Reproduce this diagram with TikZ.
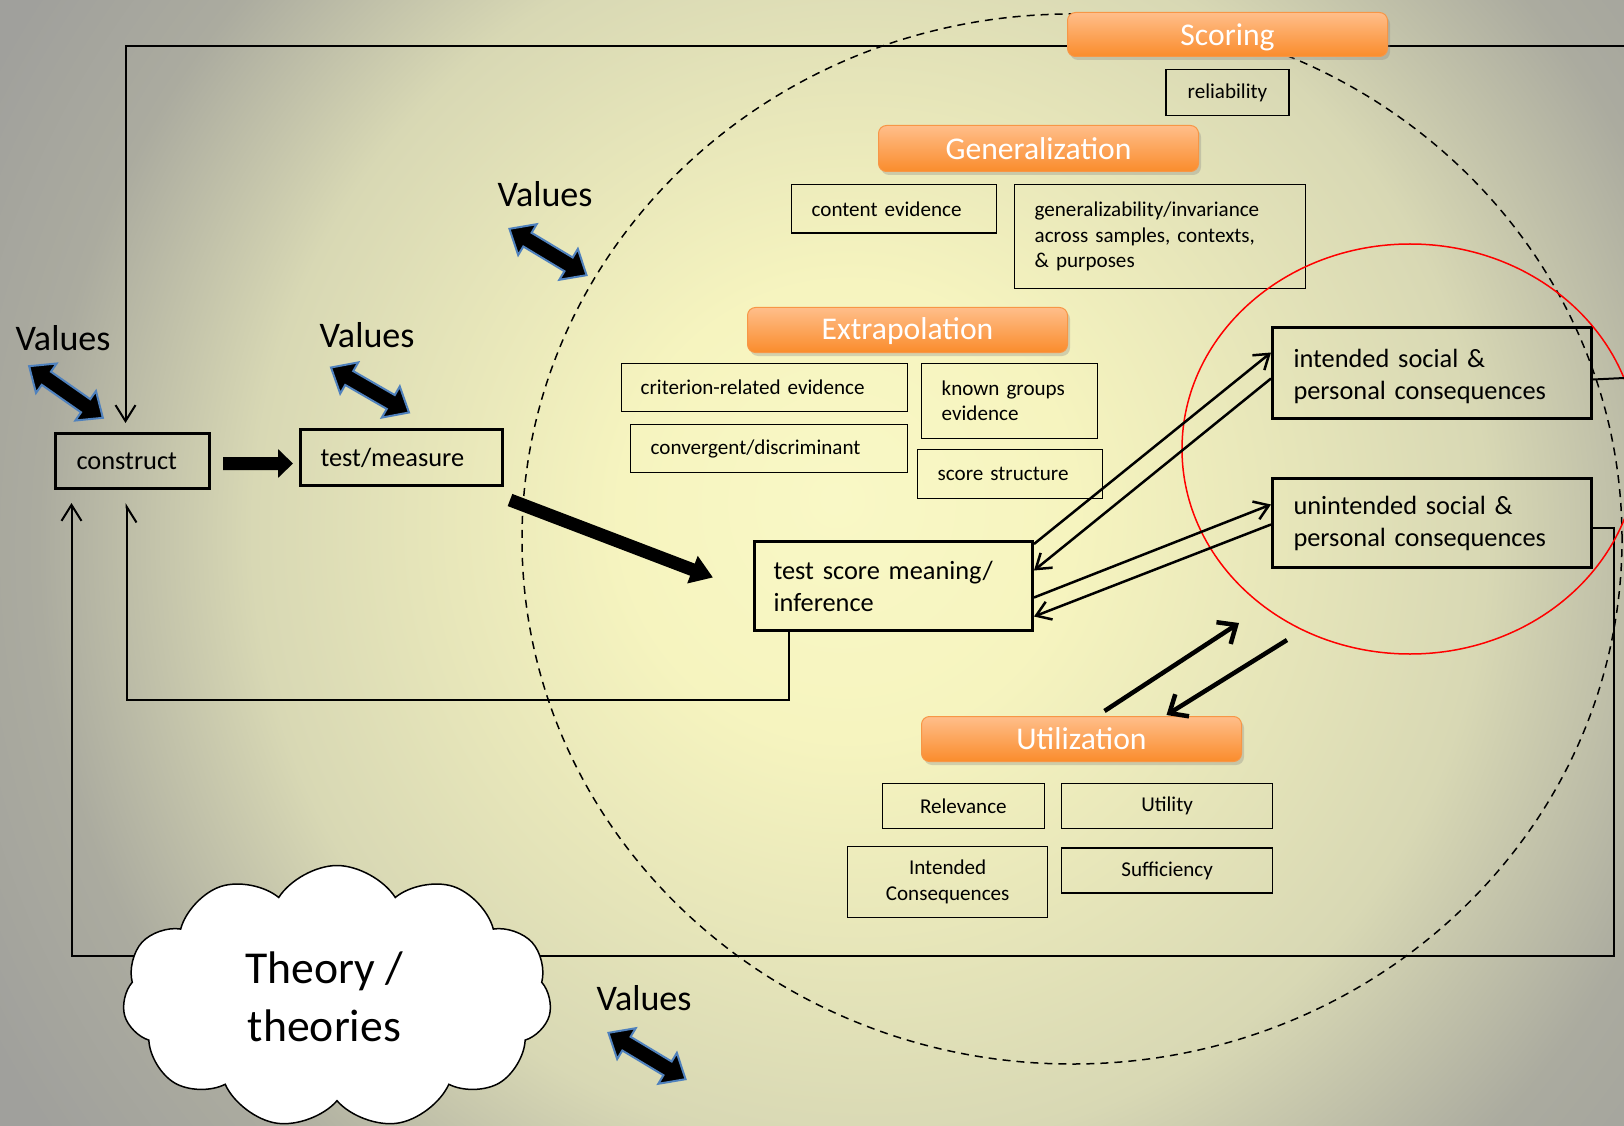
\documentclass[tikz,border=0pt]{standalone}
\usepackage{fontspec}
\setmainfont{Carlito}
\usepackage{tikz}
\usetikzlibrary{arrows.meta,positioning,shapes.symbols,shadows,backgrounds}
\definecolor{Haze}{HTML}{F9F8C6}
\definecolor{Cream}{HTML}{F6F4BF}
\definecolor{Straw}{HTML}{D8D8B4}
\definecolor{Sage}{HTML}{ABAB9F}
\definecolor{Ash}{HTML}{A0A09C}
\definecolor{Tang}{HTML}{F79646}
\definecolor{TangLite}{HTML}{FFBE8A}
\definecolor{TangDeep}{HTML}{FA8C2C}
\definecolor{Steel}{HTML}{4F81BD}
\definecolor{Signal}{HTML}{FF0000}
\pgfdeclareradialshading{glow}{\pgfpoint{-4bp}{4bp}}{color(0bp)=(Haze); color(14bp)=(Cream); color(38bp)=(Straw); color(52bp)=(Sage); color(63bp)=(Ash); color(71bp)=(Ash)}

\begin{document}
\begin{tikzpicture}[x=0.2mm,y=-0.2mm,
  every node/.style={align=center},
  bigbox/.style={draw,line width=0.6mm,anchor=north west,inner ysep=0pt,align=left,font=\fontsize{15}{18.2}\selectfont},
  smallbox/.style={draw,line width=0.26mm,anchor=north west,inner ysep=0pt,align=left,font=\fontsize{12}{14.6}\selectfont},
  phase/.style={draw=Tang,line width=0.2mm,rounded corners=1.6mm,top color=TangLite,bottom color=TangDeep,text=white,anchor=north west,inner sep=0pt,minimum width=64mm,font=\fontsize{18}{20}\selectfont,drop shadow={opacity=0.3,shadow xshift=0.5mm,shadow yshift=-0.7mm}},
  valtag/.style={anchor=base,font=\fontsize{20.5}{24}\selectfont},
  twinarrow/.pic={\draw[Steel,line width=0.4mm,fill=black,line join=miter] (-45,0) -- (-24,-18) -- (-24,-8) -- (24,-8) -- (24,-18) -- (45,0) -- (24,18) -- (24,8) -- (-24,8) -- (-24,18) -- cycle;},
  wire/.style={line width=0.4mm},
  link/.style={wire,-{Straight Barb[length=3.2mm,width=4mm]}},
  tie/.style={line width=0.5mm,-{Straight Barb[length=2.8mm,width=3.8mm]}},
  surge/.style={line width=0.9mm,-{Straight Barb[length=3mm,width=5.2mm]}},
  fat/.style={line width=2.6mm,-{Triangle[length=3mm,width=5.6mm]}}]
\useasboundingbox (0,0) rectangle (1624,1126);
\coordinate (rimT) at (1624,46);
\coordinate (rimR) at (1624,378);

% phases
\node[phase,minimum height=8.8mm] (scoring) at (1067,12) {\raisebox{-0.6mm}[\height][\depth]{Scoring}};
\node[phase,minimum height=9.2mm] (general) at (878,125) {Generalization};
\node[phase,minimum height=9mm] (extrap) at (747,307) {\raisebox{-0.3mm}[\height][\depth]{Extrapolation}};
\node[phase,minimum height=9mm] (utilize) at (921,716) {Utilization};

% evidence boxes
\node[smallbox,align=center,inner xsep=0pt,text width=24.6mm,minimum height=9.2mm,below=2.4mm of scoring] (reliab) {reliability};
\node[smallbox,inner xsep=4mm,text width=33mm,minimum height=9.7mm] (content) at (791,184) {content evidence};
\node[smallbox,inner xsep=4mm,text width=50.2mm,minimum height=20.8mm,font=\fontsize{12}{14.5}\selectfont] (invar) at (1014,184) {generalizability/invariance\\across samples, contexts,\\\& purposes};
\node[smallbox,inner xsep=3.8mm,text width=49.6mm,minimum height=9.6mm] (criter) at (621,363) {criterion-related evidence};
\node[smallbox,inner xsep=4mm,text width=47.4mm,minimum height=9.6mm] (converg) at (630,424) {convergent/discriminant};
\node[smallbox,inner xsep=4mm,text width=27.2mm,minimum height=15mm,font=\fontsize{12}{14.2}\selectfont] (known) at (921,363) {known groups\\evidence};
\node[smallbox,inner xsep=4mm,text width=29mm,minimum height=9.8mm] (struct) at (917,449) {score structure};
\node[smallbox,align=center,inner xsep=0pt,text width=42.2mm,minimum height=9mm] (utility) at (1061,783) {Utility};
\node[smallbox,align=center,inner xsep=0pt,text width=32.4mm,minimum height=9mm,left=3.2mm of utility] (relev) {Relevance};
\node[smallbox,align=center,inner xsep=0pt,text width=42.2mm,minimum height=9mm,below=3.6mm of utility] (suffic) {Sufficiency};
\node[smallbox,align=center,inner xsep=0pt,text width=40mm,minimum height=14.2mm] (intcons) at (847,846) {Intended\\Consequences};

% main boxes
\node[bigbox,inner xsep=4.2mm,text width=22.4mm,minimum height=11mm] (construct) at (54,432) {construct};
\node[bigbox,inner xsep=4mm,text width=32.4mm,minimum height=11.2mm] (measure) at (299,428) {test/measure};
\node[bigbox,inner xsep=3.8mm,text width=48mm,minimum height=17.8mm] (meaning) at (753,540) {test score meaning/\\inference};
\node[bigbox,inner xsep=4.2mm,text width=55.4mm,minimum height=18.2mm] (intend) at (1271,326) {\rule{0pt}{5mm}intended social \&\\personal consequences};
\node[bigbox,inner xsep=4.2mm,text width=55.4mm,minimum height=17.8mm,below=11.4mm of intend] (unint) {unintended social \&\\personal consequences};

\node[draw,fill=white,cloud,cloud puffs=11,cloud puff arc=115,aspect=1.6,minimum width=85.8mm,minimum height=52.6mm,inner sep=0pt,line width=0.3mm,font=\fontsize{26}{33}\selectfont] (theory) at (337,997) {\hspace*{-5mm}Theory /\\\hspace*{-5mm}theories};

% values
\node[valtag] (val1) at (63,350) {Values};
\node[valtag] (val2) at (367,347) {Values};
\node[valtag] (val3) at (545,207) {Values};
\node[valtag] (val4) at (644,1010) {Values};
\pic[rotate=-35] at (66,392) {twinarrow};
\pic[rotate=-30] at (370,390) {twinarrow};
\pic[rotate=-31] at (548,252) {twinarrow};
\pic[rotate=-31] at (647,1056) {twinarrow};

\begin{scope}[on background layer]
\begin{scope}
\clip (0,0) rectangle (1624,1126);
\fill[Ash] (0,0) rectangle (1624,1126);
\pgftransformshift{\pgfpointxy{900}{563}}
\pgftransformscale{9.21}
\pgflowlevelsynccm
\pgfuseshading{glow}
\end{scope}
\draw[line width=0.3mm,dash pattern=on 1.6mm off 1.2mm] (1072,539) ellipse [x radius=110mm,y radius=105mm];
\draw[link,shorten >=1.8mm] (rimT) -| ([xshift=-1.4mm]construct.north);
\draw[link,shorten >=2.6mm] ([yshift=-1mm]unint.east) -- ++(21,0) -- ++(0,427.5) -| ([xshift=-12.2mm]construct.south);
\end{scope}

\draw[Signal,line width=0.3mm] (1410,449) ellipse [x radius=45.6mm,y radius=41mm];
\draw[wire,-{Straight Barb[harpoon,swap,length=3.2mm,width=4mm]},shorten >=2.6mm] ([xshift=-21mm]meaning.south) -- ++(0,68) -| ([xshift=-1.2mm]construct.south);
\draw[wire] ([yshift=-1.3mm]intend.east) -- (rimR);

\draw[fat] ([xshift=2.4mm,yshift=-0.5mm]construct.east) -- ([xshift=-1.2mm,yshift=-1.2mm]measure.west);
\draw[fat,-{Triangle[length=4.4mm,width=5.6mm]}] ([shift={(1.2mm,-2.6mm)}]measure.south east) -- ([shift={(-8mm,1.7mm)}]meaning.west);

\draw[tie] ([yshift=-0.8mm]meaning.north east) -- ([yshift=4.1mm]intend.west);
\draw[tie] ([yshift=-1.1mm]intend.west) -- ([yshift=3.1mm]meaning.east);
\draw[tie] ([yshift=-2.3mm]meaning.east) -- ([yshift=3.7mm]unint.west);
\draw[tie] ([yshift=-0.3mm]unint.west) -- ([yshift=-6.1mm]meaning.east);

\draw[surge] ([shift={(4.6mm,1mm)}]utilize.north) -- ([shift={(-6.4mm,-10.8mm)}]unint.south west);
\draw[surge] ([shift={(3.2mm,-14.2mm)}]unint.south west) -- ([shift={(17mm,0.2mm)}]utilize.north);
\end{tikzpicture}
\end{document}
